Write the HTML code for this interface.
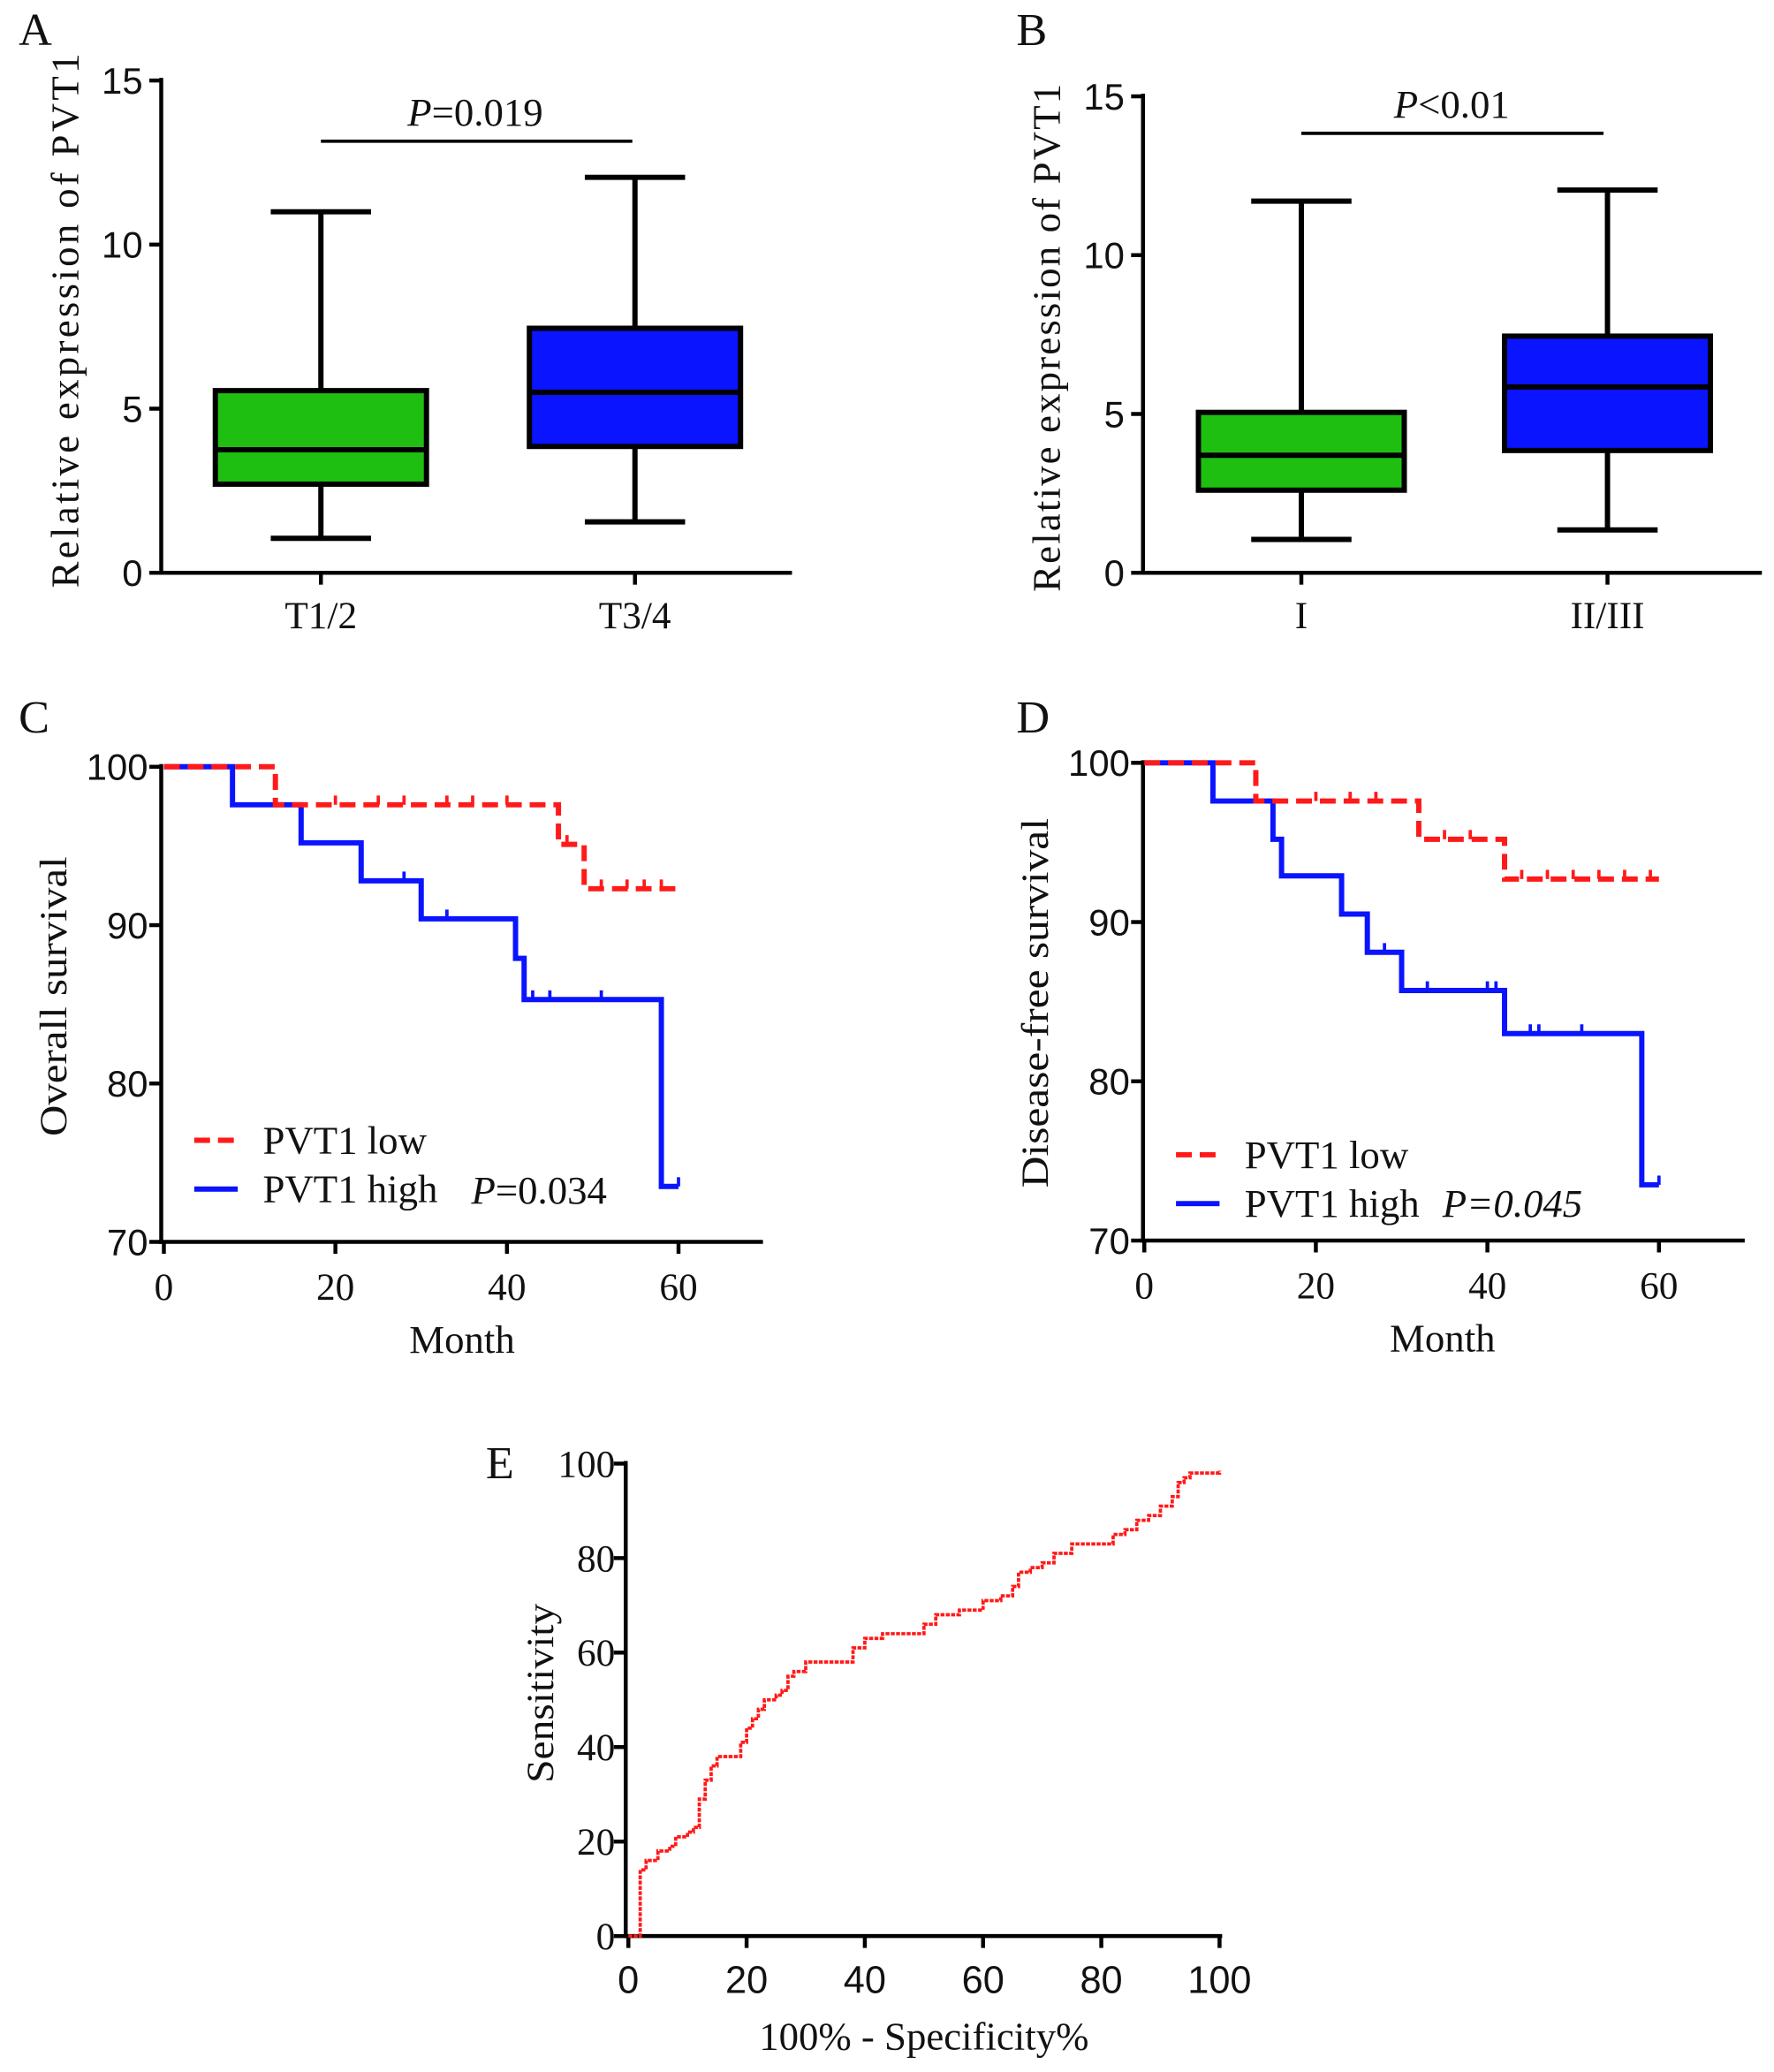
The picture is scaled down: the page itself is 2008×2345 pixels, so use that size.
<!DOCTYPE html>
<html><head><meta charset="utf-8">
<style>
html,body{margin:0;padding:0;background:#fff;}
svg{display:block;}
text{font-family:"Liberation Serif",serif;fill:#111;}
.sans{font-family:"Liberation Sans",sans-serif;}
</style></head>
<body>
<svg id="fig" width="2008" height="2345" viewBox="0 0 1344 1570" xmlns="http://www.w3.org/2000/svg"></svg>
<script>
// ---- Data ----
const boxCatsA = ["T1/2","T3/4"];
const boxStatsA = [[1.05,2.7,3.75,5.55,11.0],[1.55,3.85,5.5,7.45,12.05]];
const boxCatsB = ["I","II/III"];
const boxStatsB = [[1.05,2.6,3.7,5.05,11.7],[1.35,3.85,5.85,7.45,12.05]];
const boxTicks = [0,5,10,15];
const boxColors = ["#1fbf12","#0a14ff"];

const osLowT = [0,13,46,49,60];
const osLowS = [100,97.6,95.1,92.3,92.3];
const osLowCens = [[20,97.6],[25,97.6],[28,97.6],[33,97.6],[36,97.6],[40,97.6],[47,95.1],[51,92.3],[54,92.3],[56,92.3],[58,92.3]];
const osHighT = [0,8,16,23,30,41,42,58,60];
const osHighS = [100,97.6,95.2,92.8,90.4,87.9,85.3,73.5,73.5];
const osHighCens = [[28,92.8],[33,90.4],[43,85.3],[45,85.3],[51,85.3],[60,73.5]];

const dfsLowT = [0,13,32,42,60];
const dfsLowS = [100,97.6,95.2,92.7,92.7];
const dfsLowCens = [[20,97.6],[24,97.6],[27,97.6],[35,95.2],[38,95.2],[44,92.7],[47,92.7],[50,92.7],[53,92.7],[56,92.7],[59,92.7]];
const dfsHighT = [0,8,15,16,23,26,30,42,58,60];
const dfsHighS = [100,97.6,95.2,92.9,90.5,88.1,85.7,83.0,73.5,73.5];
const dfsHighCens = [[28,88.1],[33,85.7],[40,85.7],[41,85.7],[45,83.0],[46,83.0],[51,83.0],[60,73.5]];
const survTicksX = [0,20,40,60];
const survTicksY = [70,80,90,100];

const rocX = [0,1,2,2,3,5,7,8,10,11,12,13,14,15,18,19,20,21,22,23,25,26,27,28,30,37,38,40,43,48,50,52,56,60,63,65,66,68,70,72,75,80,82,84,86,88,90,92,93,94,95,100];
const rocY = [0,0,1,14,16,18,19,21,22,23,29,33,36,38,38,41,44,46,48,50,51,52,55,56,58,58,61,63,64,64,66,68,69,71,72,74,77,78,79,81,83,83,85,86,88,89,91,93,96,97,98,98.5];
const rocTicks = [0,20,40,60,80,100];

// ---- Helpers ----
const NS="http://www.w3.org/2000/svg";
const svg=document.getElementById('fig');
function el(tag,attrs,parent){const e=document.createElementNS(NS,tag);for(const k in attrs)e.setAttribute(k,attrs[k]);(parent||svg).appendChild(e);return e;}
function txt(s,x,y,size,attrs,parent){const t=el('text',Object.assign({x:x,y:y,'font-size':size},attrs||{}),parent);t.textContent=s;return t;}
function lin(d0,d1,r0,r1){return v=>r0+(v-d0)/(d1-d0)*(r1-r0);}

// ---- Box panels ----
function boxPanel(name,letter,lx,ly,ax,y0,y15,xEnd,cats,catX,stats,halfW,brY,brX0,brX1,pLabel,pX,ylCenter,ylLen){
  const g=el('g',{});
  
  
  const y=lin(0,15,y0,y15);
  txt(letter,lx,ly,35,{},g);
  el('line',{x1:ax,y1:y15-2,x2:ax,y2:y0+1.5,stroke:'#000','stroke-width':3},g);
  el('line',{x1:ax-1.5,y1:y0,x2:xEnd,y2:y0,stroke:'#000','stroke-width':3},g);
  boxTicks.forEach(t=>{el('line',{x1:ax-9,y1:y(t),x2:ax,y2:y(t),stroke:'#000','stroke-width':3},g);
    txt(String(t),ax-14,y(t)+10,28,{'text-anchor':'end',class:'sans'},g);});
  const yl=txt('Relative  expression of PVT1',ax-63,ylCenter,30,{'text-anchor':'middle',textLength:ylLen,lengthAdjust:'spacing',transform:`rotate(-90 ${ax-63} ${ylCenter})`},g);
  
  
  cats.forEach((c,i)=>{
    const cx=catX[i],s=stats[i];
    el('line',{x1:cx,y1:y0,x2:cx,y2:y0+9,stroke:'#000','stroke-width':3},g);
    txt(c,cx,y0+42,29,{'text-anchor':'middle'},g);
    const b=el('g',{},g);
    
    
    el('line',{x1:cx,y1:y(s[0]),x2:cx,y2:y(s[4]),stroke:'#000','stroke-width':4},b);
    el('line',{x1:cx-38,y1:y(s[0]),x2:cx+38,y2:y(s[0]),stroke:'#000','stroke-width':4},b);
    el('line',{x1:cx-38,y1:y(s[4]),x2:cx+38,y2:y(s[4]),stroke:'#000','stroke-width':4},b);
    el('rect',{x:cx-halfW,y:y(s[3]),width:2*halfW,height:y(s[1])-y(s[3]),fill:boxColors[i],stroke:'#000','stroke-width':4},b);
    el('line',{x1:cx-halfW,y1:y(s[2]),x2:cx+halfW,y2:y(s[2]),stroke:'#000','stroke-width':4},b);
  });
  el('line',{x1:brX0,y1:brY,x2:brX1,y2:brY,stroke:'#000','stroke-width':2.5},g);
  const p=txt('',pX,brY-12,30,{'text-anchor':'middle'},g);
  const pi=el('tspan',{'font-style':'italic'},p);pi.textContent='P';
  const pr=el('tspan',{},p);pr.textContent=pLabel;
}
boxPanel('panel-a-boxplot','A',14,34,122,434,61,600,boxCatsA,[243,481],boxStatsA,80,107,243,479,'=0.019',360,243,405);
boxPanel('panel-b-boxplot','B',770,34,866,434,73,1335,boxCatsB,[986,1218],boxStatsB,78,101,986,1215,'<0.01',1100,256,385);

// ---- Survival panels ----
function stepPath(x,y,T,S){let d=`M${x(T[0])},${y(S[0])}`;for(let i=1;i<T.length;i++){d+=` H${x(T[i])} V${y(S[i])}`;}return d;}
function survPanel(name,letter,lx,ly,ax,yTop,yBot,x0,x60,xEnd,ylab,ylCenter,ylLen,lowT,lowS,lowC,highT,highS,highC,legY,pX,pY,pText,pItal,monthX){
  const g=el('g',{});
  
  
  const x=lin(0,60,x0,x60), y=lin(70,100,yBot,yTop);
  txt(letter,lx,ly,35,{},g);
  el('line',{x1:ax,y1:yTop-2,x2:ax,y2:yBot+1.5,stroke:'#000','stroke-width':3},g);
  el('line',{x1:ax-1.5,y1:yBot,x2:xEnd,y2:yBot,stroke:'#000','stroke-width':3},g);
  survTicksY.forEach(t=>{el('line',{x1:ax-9,y1:y(t),x2:ax,y2:y(t),stroke:'#000','stroke-width':3},g);
    txt(String(t),ax-10,y(t)+10,28,{'text-anchor':'end',class:'sans'},g);});
  survTicksX.forEach(t=>{el('line',{x1:x(t),y1:yBot,x2:x(t),y2:yBot+9,stroke:'#000','stroke-width':3},g);
    txt(String(t),x(t),yBot+44,29,{'text-anchor':'middle'},g);});
  txt('Month',monthX,yBot+84,30,{'text-anchor':'middle'},g);
  txt(ylab,ax-72,ylCenter,29,{'text-anchor':'middle',textLength:ylLen,lengthAdjust:'spacingAndGlyphs',transform:`rotate(-90 ${ax-72} ${ylCenter})`},g);
  const hi=el('path',{d:stepPath(x,y,highT,highS),fill:'none',stroke:'#0a14ff','stroke-width':4},g);
  
  
  highC.forEach(c=>el('line',{x1:x(c[0]),y1:y(c[1]),x2:x(c[0]),y2:y(c[1])-7,stroke:'#0a14ff','stroke-width':2.5},g));
  const lo=el('path',{d:stepPath(x,y,lowT,lowS),fill:'none',stroke:'#ff1a1a','stroke-width':4,'stroke-dasharray':'12 6'},g);
  
  
  lowC.forEach(c=>el('line',{x1:x(c[0]),y1:y(c[1]),x2:x(c[0]),y2:y(c[1])-7,stroke:'#ff1a1a','stroke-width':2.5},g));
  const lg=el('g',{},g);
  
  
  const lx0=ax+25;
  el('line',{x1:lx0,y1:legY,x2:lx0+33,y2:legY,stroke:'#ff1a1a','stroke-width':4,'stroke-dasharray':'12 6'},lg);
  txt('PVT1 low',lx0+52,legY+10,30,{},lg);
  el('line',{x1:lx0,y1:legY+37,x2:lx0+33,y2:legY+37,stroke:'#0a14ff','stroke-width':4},lg);
  txt('PVT1 high',lx0+52,legY+47,30,{},lg);
  const p=txt('',pX,pY,30,{},g);
  const pi=el('tspan',{'font-style':'italic'},p);pi.textContent='P';
  const pr=el('tspan',pItal?{'font-style':'italic'}:{},p);pr.textContent=pText;
}
survPanel('panel-c-overall-survival','C',14,555,122,581,941,124,514,578,'Overall survival',755,212,osLowT,osLowS,osLowCens,osHighT,osHighS,osHighCens,864,357,912,'=0.034',false,350);
survPanel('panel-d-disease-free-survival','D',770,555,866,578,940,867,1257,1322,'Disease-free survival',760,280,dfsLowT,dfsLowS,dfsLowCens,dfsHighT,dfsHighS,dfsHighCens,875,1093,922,'=0.045',true,1093);

// ---- ROC panel ----
(function(){
  const g=el('g',{});
  
  
  const ax=474,y0=1467,y100=1109,x0=476,x100=924;
  const x=lin(0,100,x0,x100), y=lin(0,100,y0,y100);
  txt('E',368,1120,35,{},g);
  el('line',{x1:ax,y1:y100-2,x2:ax,y2:y0+1.5,stroke:'#000','stroke-width':3},g);
  el('line',{x1:ax-1.5,y1:y0,x2:x100+2,y2:y0,stroke:'#000','stroke-width':3},g);
  rocTicks.forEach(t=>{
    el('line',{x1:ax-9,y1:y(t),x2:ax,y2:y(t),stroke:'#000','stroke-width':3},g);
    txt(String(t),ax-8,y(t)+10,29,{'text-anchor':'end'},g);
    el('line',{x1:x(t),y1:y0,x2:x(t),y2:y0+9,stroke:'#000','stroke-width':3},g);
    txt(String(t),x(t),y0+43,29,{'text-anchor':'middle',class:'sans'},g);
  });
  txt('100% - Specificity%',700,1553,30,{'text-anchor':'middle'},g);
  txt('Sensitivity',ax-55,1283,29,{'text-anchor':'middle',textLength:136,lengthAdjust:'spacingAndGlyphs',transform:`rotate(-90 ${ax-55} 1283)`},g);
  let d=`M${x(rocX[0])},${y(rocY[0])}`;
  for(let i=1;i<rocX.length;i++){d+=` H${x(rocX[i])} V${y(rocY[i])}`;}
  const c=el('path',{d:d,fill:'none',stroke:'#ff1a1a','stroke-width':2.5,'stroke-dasharray':'3 1'},g);
  
  
})();
</script>
</body></html>
